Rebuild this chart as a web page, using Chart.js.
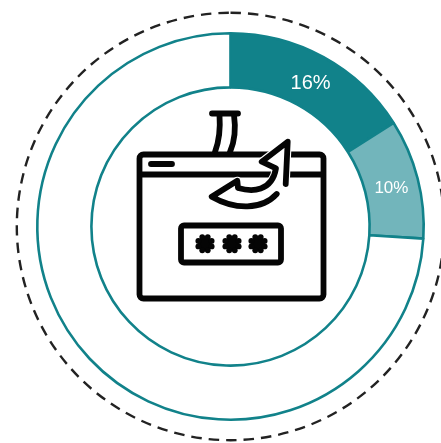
<!DOCTYPE html>
<html>
<head>
<meta charset="utf-8">
<title>Phishing share</title>
<style>
  html, body { margin: 0; padding: 0; background: #fff; overflow: hidden; }
  canvas { display: block; }
</style>
<script src="https://cdn.jsdelivr.net/npm/chart.js@4"></script>
</head>
<body>
<canvas id="ringChart" width="441" height="443"></canvas>
<script>
// chart data
const categories = ['A', 'B', 'Rest'];
const seriesValues = [16, 10, 74];
const valueLabels = ['16%', '10%', ''];

// styles
const TEAL = '#11828a';
const sliceColors = [TEAL, '#72b5bb', '#ffffff'];
const labelSizes = [20, 17, 0];

// dashed circle around the ring
const dashedRing = {
  id: 'dashedRing',
  beforeDatasetsDraw(chart) {
    const arc = chart.getDatasetMeta(0).data[0];
    const c = chart.ctx;
    c.save();
    c.strokeStyle = '#222222';
    c.lineWidth = 2.4;
    c.setLineDash([10.5, 7]);
    c.beginPath();
    c.arc(arc.x, arc.y, arc.outerRadius + 20.5, -Math.PI / 2, Math.PI * 1.5);
    c.stroke();
    c.restore();
  }
};

// percent text on the slices
const sliceLabels = {
  id: 'sliceLabels',
  afterDatasetsDraw(chart) {
    const c = chart.ctx;
    c.save();
    c.fillStyle = '#ffffff';
    c.textAlign = 'center';
    c.textBaseline = 'middle';
    chart.getDatasetMeta(0).data.forEach((arc, i) => {
      if (!valueLabels[i]) return;
      const p = arc.getCenterPoint();
      c.font = labelSizes[i] + 'px "Liberation Sans", Arial, sans-serif';
      c.fillText(valueLabels[i], p.x, p.y + 3);
    });
    c.restore();
  }
};

function star(c, x, y) {
  // little flower shaped asterisk, 8 lobes
  c.beginPath();
  c.arc(x, y, 7, 0, Math.PI * 2);
  c.fill();
  for (let i = 0; i < 8; i++) {
    const a = i * Math.PI / 4 + Math.PI / 8;
    c.beginPath();
    c.arc(x + Math.cos(a) * 7.2, y + Math.sin(a) * 7.2, 2.9, 0, Math.PI * 2);
    c.fill();
  }
}

// browser window + hook icon in the hole
const phishingIcon = {
  id: 'phishingIcon',
  afterDraw(chart) {
    const c = chart.ctx;
    c.save();
    c.strokeStyle = '#050505';
    c.fillStyle = '#050505';
    c.lineCap = 'round';
    c.lineJoin = 'round';
    c.lineWidth = 5.8;

    // hook line
    c.beginPath();
    c.moveTo(212, 113.5); c.lineTo(238, 113.5);
    c.moveTo(219.5, 115); c.quadraticCurveTo(221, 136, 215, 152);
    c.moveTo(234, 115); c.quadraticCurveTo(237, 136, 230, 152);
    c.stroke();

    // window
    c.beginPath();
    c.roundRect(139.5, 154.5, 184, 144, 4);
    c.moveTo(139.5, 174.5); c.lineTo(323.5, 174.5);
    c.stroke();
    c.beginPath();
    c.moveTo(151, 164); c.lineTo(172, 164);
    c.stroke();

    // password box
    c.beginPath();
    c.roundRect(181, 225.5, 100, 37, 3);
    c.stroke();
    star(c, 205, 243.7);
    star(c, 232, 243.7);
    star(c, 258, 243.7);

    // arrow: white mask first so the window lines break around it
    c.beginPath();
    c.moveTo(287.7, 141.7);
    c.lineTo(261.7, 161.7);
    c.lineTo(276, 168.3);
    c.bezierCurveTo(272, 192, 252, 192, 238, 188);
    c.lineTo(237.3, 180.7);
    c.lineTo(211.7, 196.7);
    c.bezierCurveTo(235, 210, 262, 210, 276.7, 194);
    c.lineTo(285.7, 184);
    c.closePath();
    c.fillStyle = '#ffffff';
    c.strokeStyle = '#ffffff';
    c.lineWidth = 8;
    c.stroke();
    c.fill();

    c.strokeStyle = '#050505';
    c.lineWidth = 5.8;
    c.beginPath();
    c.moveTo(285.7, 184);
    c.lineTo(287.7, 141.7);
    c.lineTo(261.7, 161.7);
    c.lineTo(276, 168.3);
    c.bezierCurveTo(272, 192, 252, 192, 238, 188);
    c.lineTo(237.3, 180.7);
    c.lineTo(211.7, 196.7);
    c.bezierCurveTo(235, 210, 262, 210, 276.7, 194);
    c.stroke();
    c.restore();
  }
};

new Chart(document.getElementById('ringChart'), {
  type: 'doughnut',
  data: {
    labels: categories,
    datasets: [{
      data: seriesValues,
      backgroundColor: sliceColors,
      borderColor: TEAL,
      borderWidth: 2.6
    }]
  },
  options: {
    responsive: false,
    animation: false,
    cutout: '72%',
    layout: { padding: { left: 36, right: 16, top: 32, bottom: 22 } },
    plugins: {
      legend: { display: false },
      tooltip: { enabled: false }
    }
  },
  plugins: [dashedRing, sliceLabels, phishingIcon]
});
</script>
</body>
</html>
